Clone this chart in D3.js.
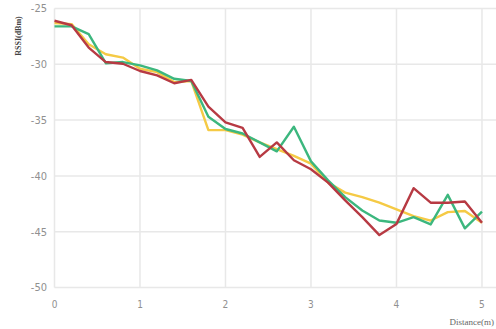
<!DOCTYPE html>
<html><head><meta charset="utf-8">
<script src="https://cdn.jsdelivr.net/npm/d3@7/dist/d3.min.js"></script>
<style>body{margin:0;background:#fff;}svg{display:block;}</style>
</head><body>
<svg id="c" width="496" height="329"></svg>
<script>
const distances = [0,0.2,0.4,0.6,0.8,1,1.2,1.4,1.6,1.8,2,2.2,2.4,2.6,2.8,3,3.2,3.4,3.6,3.8,4,4.2,4.4,4.6,4.8,5];
const redSeries = [-26.1,-26.5,-28.5,-29.8,-29.95,-30.6,-31.0,-31.7,-31.4,-33.8,-35.2,-35.7,-38.3,-37.0,-38.6,-39.4,-40.6,-42.2,-43.7,-45.3,-44.3,-41.1,-42.4,-42.4,-42.3,-44.2];
const greenSeries = [-26.6,-26.6,-27.3,-29.9,-29.8,-30.1,-30.55,-31.3,-31.5,-34.7,-35.8,-36.2,-37.0,-37.8,-35.6,-38.7,-40.4,-41.9,-43.1,-44.0,-44.2,-43.7,-44.35,-41.7,-44.7,-43.2];
const yellowSeries = [-26.3,-26.4,-28.2,-29.1,-29.4,-30.4,-30.7,-31.6,-31.5,-35.9,-35.9,-36.3,-37.0,-37.6,-38.2,-38.9,-40.6,-41.5,-41.9,-42.4,-43.0,-43.6,-44.0,-43.25,-43.15,-44.2];
const xTicks = [0,1,2,3,4,5];
const yTicks = [-25,-30,-35,-40,-45,-50];
const xTitle = "Distance(m)";
const yTitle = "RSSI(dBm)";

const svg = d3.select("#c");
const x = d3.scaleLinear().domain([0, 5.164]).range([54.5, 496]);
const y = d3.scaleLinear().domain([-50, -25]).range([287.5, 8.5]);

const grid = svg.append("g");
grid.selectAll("line.h").data(yTicks).join("line")
  .attr("x1", x(0)).attr("x2", 496)
  .attr("y1", d => y(d)).attr("y2", d => y(d))
  .attr("stroke", "#e8e8e8").attr("stroke-width", 1.5);
grid.selectAll("line.v").data(xTicks).join("line")
  .attr("x1", d => x(d)).attr("x2", d => x(d))
  .attr("y1", y(-25)).attr("y2", y(-50))
  .attr("stroke", "#e8e8e8").attr("stroke-width", 1.5);

const font = "'DejaVu Sans Condensed','DejaVu Sans',sans-serif";
svg.append("g").selectAll("text").data(yTicks).join("text")
  .attr("x", 47).attr("y", d => y(d)).attr("dy", "0.35em")
  .attr("text-anchor", "end").attr("font-family", font).attr("font-size", 11)
  .attr("fill", "#909090").text(d => d);
svg.append("g").selectAll("text").data(xTicks).join("text")
  .attr("x", d => x(d)).attr("y", 304).attr("dy", "0.35em")
  .attr("text-anchor", "middle").attr("font-family", font).attr("font-size", 10)
  .attr("fill", "#909090").text(d => d);
svg.append("text").attr("x", 494).attr("y", 325)
  .attr("text-anchor", "end")
  .attr("font-family", "'Liberation Serif',serif").attr("font-size", 9)
  .attr("fill", "#666").text(xTitle);
svg.append("text").attr("transform", "translate(21,36) rotate(-90)")
  .attr("text-anchor", "middle").attr("font-family", "'Liberation Serif',serif")
  .attr("font-weight", "bold").attr("font-size", 8).attr("fill", "#444").text(yTitle);

const line = d3.line().x((d, i) => x(distances[i])).y(d => y(d));
const series = [
  {vals: yellowSeries, color: "#f5ca45"},
  {vals: greenSeries, color: "#3cb77e"},
  {vals: redSeries, color: "#b73a43"}
];
svg.append("g").selectAll("path").data(series).join("path")
  .attr("d", d => line(d.vals)).attr("fill", "none")
  .attr("stroke", d => d.color).attr("stroke-width", 2.4)
  .attr("stroke-linejoin", "round");
</script>
</body></html>
